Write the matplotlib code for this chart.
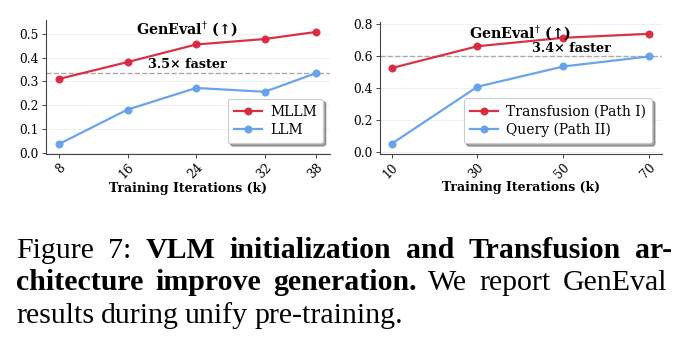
import matplotlib
matplotlib.use("Agg")
import matplotlib.pyplot as plt

# ---- data ----
left_iters = [8, 16, 24, 32, 38]
left_mllm = [0.310, 0.381, 0.455, 0.478, 0.508]
left_llm = [0.036, 0.181, 0.272, 0.256, 0.335]
left_ref = 0.335

right_iters = [10, 30, 50, 70]
right_transfusion = [0.525, 0.662, 0.715, 0.740]
right_query = [0.050, 0.408, 0.535, 0.598]
right_ref = 0.600

left_labels = ["MLLM", "LLM"]
right_labels = ["Transfusion (Path I)", "Query (Path II)"]
title = "GenEval$^{\\dagger}$ (↑)"
xlabel = "Training Iterations (k)"

RED = "#d7263d"
BLUE = "#62a0ea"

plt.rcParams["font.family"] = ["DejaVu Serif"]
plt.rcParams["mathtext.fontset"] = "dejavuserif"

W, H = 689, 343
fig = plt.figure(figsize=(W / 100, H / 100), dpi=100)

def px_axes(x0, y0, x1, y1):
    return fig.add_axes([x0 / W, 1 - y1 / H, (x1 - x0) / W, (y1 - y0) / H])

def style(ax):
    for s in ["top", "right"]:
        ax.spines[s].set_visible(False)
    for s in ["left", "bottom"]:
        ax.spines[s].set_color("#444444")
        ax.spines[s].set_linewidth(0.8)
    ax.tick_params(axis="both", labelsize=8.8, length=3, width=0.7, color="#444444", pad=2)
    ax.grid(axis="y", color="#eeeeee", linewidth=0.6)
    ax.set_axisbelow(True)

def draw(ax, xs, a, b, labels, ref, ref_label, ref_xy, leg_anchor):
    ax.axhline(ref, color="#aaaaaa", linestyle="--", linewidth=1.0, zorder=1)
    ax.plot(xs, a, color=RED, linewidth=1.6, marker="o", markersize=5.8,
            markeredgewidth=0, alpha=0.95, label=labels[0], zorder=3)
    ax.plot(xs, b, color=BLUE, linewidth=1.6, marker="o", markersize=5.8,
            markeredgewidth=0, alpha=0.95, label=labels[1], zorder=3)
    ax.set_xticks(xs)
    ax.set_xticklabels([str(v) for v in xs], rotation=45, ha="right", rotation_mode="anchor")
    ax.set_xlabel(xlabel, fontsize=9, fontweight="bold", labelpad=0)
    ax.text(ref_xy[0], ref_xy[1], ref_label, transform=ax.transAxes, fontsize=9.2,
            fontweight="bold", ha="center", va="center")
    leg = ax.legend(loc="lower right", fontsize=10, frameon=True, fancybox=True,
                    shadow=True, borderpad=0.45, handlelength=2.0, labelspacing=0.3,
                    handletextpad=0.6, bbox_to_anchor=leg_anchor)
    leg.get_frame().set_edgecolor("#cccccc")
    leg.get_frame().set_linewidth(0.8)

axL = px_axes(46, 20, 330, 154.3)
style(axL)
draw(axL, left_iters, left_mllm, left_llm, left_labels, left_ref, "3.5× faster",
     (0.497, 0.67), (1.0, 0.03))
axL.set_xlim(6.5, 39.6)
axL.set_ylim(-0.007, 0.558)
axL.set_yticks([0.0, 0.1, 0.2, 0.3, 0.4, 0.5])
axL.text(0.495, 0.935, title, transform=axL.transAxes, fontsize=10.3, fontweight="bold",
         ha="center", va="center")

axR = px_axes(380, 21.7, 662, 154.3)
style(axR)
draw(axR, right_iters, right_transfusion, right_query, right_labels, right_ref, "3.4× faster",
     (0.68, 0.795), (0.99, 0.03))
axR.set_xlim(7.3, 73)
axR.set_ylim(-0.016, 0.816)
axR.set_yticks([0.0, 0.2, 0.4, 0.6, 0.8])
axR.text(0.496, 0.92, title, transform=axR.transAxes, fontsize=10.3, fontweight="bold",
         ha="center", va="center")

# ---- caption ----
cap_font = "Liberation Serif"
cap_size = 21.5
lines = [
    [("Figure", False), ("7:", False), ("VLM", True), ("initialization", True), ("and", True),
     ("Transfusion", True), ("ar-", True)],
    [("chitecture", True), ("improve", True), ("generation.", True), ("We", False),
     ("report", False), ("GenEval", False)],
    [("results", False), ("during", False), ("unify", False), ("pre-training.", False)],
]
baselines = [258, 290.5, 323]
left_px = 16
right_edges = [672, 667, None]
renderer = fig.canvas.get_renderer()
for words, yb, rp in zip(lines, baselines, right_edges):
    objs = []
    for w, bold in words:
        t = fig.text(0, 1 - yb / H, w, fontsize=cap_size, family=cap_font,
                     fontweight="bold" if bold else "normal", va="baseline", ha="left")
        objs.append(t)
    widths = [t.get_window_extent(renderer).width for t in objs]
    if rp is not None:
        gap = (rp - left_px - sum(widths)) / (len(objs) - 1)
    else:
        gap = 6.5
    x = left_px
    for t, w in zip(objs, widths):
        t.set_x(x / W)
        x += w + gap

fig.savefig("out.png", dpi=100)
